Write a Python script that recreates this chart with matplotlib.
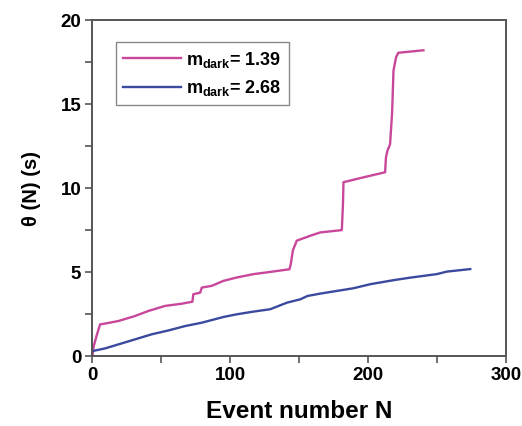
import numpy as np
import matplotlib
matplotlib.use("Agg")
import matplotlib.pyplot as plt
from matplotlib.ticker import MultipleLocator

plt.rcParams['font.family'] = ['Liberation Sans', 'DejaVu Sans']
plt.rcParams['font.weight'] = 'bold'
plt.rcParams['axes.labelweight'] = 'bold'
plt.rcParams['mathtext.fontset'] = 'custom'
plt.rcParams['mathtext.rm'] = 'Liberation Sans:bold'
plt.rcParams['mathtext.bf'] = 'Liberation Sans:bold'

# m_dark = 1.39 (pink)
n_pink = [0, 1, 3, 5.6, 10, 18.9, 31, 40.7, 52.8, 64.9, 72.6, 73.2, 78.2, 79.4,
          86.6, 95.1, 104.8, 116.9, 129, 143, 144, 145.5, 148.3, 158, 165.3,
          181, 181.8, 182.2, 196.7, 212.4, 213, 214, 216, 217.5, 218.5, 220.4,
          222, 240.2]
theta_pink = [0, 0.6, 1.2, 1.89, 1.95, 2.09, 2.39, 2.69, 2.99, 3.12, 3.24, 3.68,
              3.78, 4.08, 4.18, 4.48, 4.68, 4.88, 5.01, 5.17, 5.5, 6.3, 6.87,
              7.16, 7.36, 7.5, 9.0, 10.35, 10.64, 10.94, 11.8, 12.2, 12.6, 14.5,
              17.0, 17.8, 18.05, 18.2]

# m_dark = 2.68 (blue)
n_blue = [0, 9.2, 18.9, 31, 43.1, 55.2, 67.3, 79.4, 95.1, 104.8, 116.9, 129,
          141.1, 150.8, 156.1, 165.3, 177.4, 189.5, 201.6, 218.5, 230.6, 249.9,
          257.2, 274.2]
theta_blue = [0.3, 0.46, 0.70, 1.0, 1.30, 1.53, 1.79, 1.99, 2.33, 2.49, 2.65,
              2.79, 3.18, 3.38, 3.58, 3.72, 3.88, 4.04, 4.28, 4.52, 4.67, 4.88,
              5.03, 5.18]

labels = [r'$\mathregular{m_{dark}}$= 1.39', r'$\mathregular{m_{dark}}$= 2.68']

fig = plt.figure(figsize=(5.22, 4.26), dpi=100)
ax = fig.add_axes([0.177, 0.164, 0.792, 0.789])

ax.plot(n_pink, theta_pink, color='#c8479b', lw=1.7, label=labels[0])
ax.plot(n_blue, theta_blue, color='#3a4a9e', lw=1.7, label=labels[1])

ax.set_xlim(0, 300)
ax.set_ylim(0, 20)
ax.xaxis.set_major_locator(MultipleLocator(100))
ax.xaxis.set_minor_locator(MultipleLocator(50))
ax.yaxis.set_major_locator(MultipleLocator(5))
ax.yaxis.set_minor_locator(MultipleLocator(2.5))
ax.tick_params(which='both', direction='out', length=5, width=1.2, color='#555555',
               labelsize=13.5, pad=3)

for s in ax.spines.values():
    s.set_color('#555555')
    s.set_linewidth(1.4)

ax.set_xlabel('Event number N', fontsize=17.5, labelpad=11)
ax.set_ylabel('θ (N) (s)', fontsize=14.5, labelpad=14)

leg = ax.legend(loc='upper left', bbox_to_anchor=(0.035, 0.96), fontsize=13,
                fancybox=False, edgecolor='#888888', framealpha=1,
                handlelength=3.2, borderpad=0.4, labelspacing=0.45,
                handletextpad=0.3)
leg.get_frame().set_linewidth(1.0)

fig.savefig('out.png', dpi=100)
